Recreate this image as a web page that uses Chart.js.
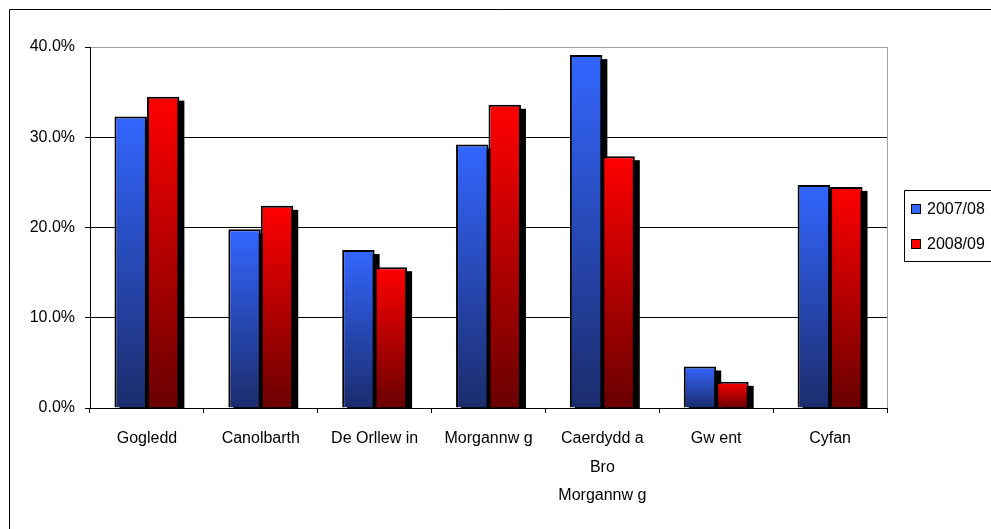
<!DOCTYPE html>
<html>
<head>
<meta charset="utf-8">
<script src="https://cdn.jsdelivr.net/npm/chart.js@4.4.1/dist/chart.umd.min.js"></script>
<style>
  html, body { margin: 0; padding: 0; background: #fff; }
  #wrap { width: 991px; height: 529px; position: relative; }
</style>
</head>
<body>
<div id="wrap"><canvas id="chart" width="991" height="529"></canvas></div>
<script>
Chart.defaults.font.family = "'Liberation Sans', Arial, sans-serif";
Chart.defaults.font.size = 16;
Chart.defaults.color = '#000';

const regions = [
  'Gogledd',
  'Canolbarth',
  'De Orllew in',
  'Morgannw g',
  ['Caerdydd a', 'Bro', 'Morgannw g'],
  'Gw ent',
  'Cyfan'
];
const series2007 = [32.3, 19.8, 17.5, 29.2, 39.1, 4.6, 24.7];
const series2008 = [34.5, 22.4, 15.6, 33.6, 27.9, 2.9, 24.5];
const seriesLabels = ['2007/08', '2008/09'];
const yTicks = [0, 10, 20, 30, 40];

const GRAD = {
  blue: ['#3366ff', '#1b2c6c'],
  red:  ['#ff0000', '#690000']
};

function barGradient(pair) {
  return ctx => {
    const chart = ctx.chart;
    if (!chart.chartArea || ctx.parsed === undefined) return pair[0];
    const y = chart.scales.y;
    const top = y.getPixelForValue(ctx.parsed.y);
    const base = y.getPixelForValue(0);
    if (!isFinite(top) || base - top < 1) return pair[0];
    const g = chart.ctx.createLinearGradient(0, top, 0, base);
    g.addColorStop(0, pair[0]);
    g.addColorStop(1, pair[1]);
    return g;
  };
}

const frame = {
  id: 'frame',
  beforeDatasetsDraw(chart) {
    const { ctx } = chart;
    const base = chart.scales.y.getPixelForValue(0);
    ctx.save();
    ctx.fillStyle = '#000';
    chart.data.datasets.forEach((ds, i) => {
      chart.getDatasetMeta(i).data.forEach(bar => {
        const w = bar.width;
        const h = base - bar.y - 4;
        if (h > 0) ctx.fillRect(bar.x - w / 2 + 5, bar.y + 4, w, h);
      });
    });
    ctx.restore();
  },
  afterDraw(chart) {
    const { ctx, chartArea: a } = chart;
    ctx.save();
    // plot area right edge
    ctx.strokeStyle = '#a0a0a0';
    ctx.lineWidth = 1;
    ctx.beginPath();
    ctx.moveTo(a.right + 0.5, a.top);
    ctx.lineTo(a.right + 0.5, a.bottom);
    ctx.stroke();
    // outer border
    ctx.strokeStyle = '#000';
    ctx.beginPath();
    ctx.moveTo(9.5, 529);
    ctx.lineTo(9.5, 9.5);
    ctx.lineTo(991, 9.5);
    ctx.stroke();
    // legend
    ctx.beginPath();
    ctx.rect(904.5, 190.5, 100, 71);
    ctx.stroke();
    ctx.font = "16px 'Liberation Sans', Arial, sans-serif";
    ctx.textBaseline = 'middle';
    ctx.textAlign = 'left';
    const fills = [GRAD.blue[0], GRAD.red[0]];
    chart.data.datasets.forEach((ds, i) => {
      const cy = 209 + i * 35;
      ctx.fillStyle = fills[i];
      ctx.fillRect(911, cy - 5, 10, 10);
      ctx.strokeStyle = '#000';
      ctx.strokeRect(911.5, cy - 4.5, 9, 9);
      ctx.fillStyle = '#000';
      ctx.fillText(ds.label, 927, cy + 1);
    });
    ctx.restore();
  }
};

new Chart(document.getElementById('chart'), {
  type: 'bar',
  data: {
    labels: regions,
    datasets: [
      { label: seriesLabels[0], data: series2007, backgroundColor: barGradient(GRAD.blue),
        borderColor: '#000', borderWidth: 2, categoryPercentage: 0.57, barPercentage: 1 },
      { label: seriesLabels[1], data: series2008, backgroundColor: barGradient(GRAD.red),
        borderColor: '#000', borderWidth: 2, categoryPercentage: 0.57, barPercentage: 1 }
    ]
  },
  options: {
    responsive: false,
    animation: false,
    layout: { padding: { left: 0, top: 47, right: 104, bottom: 0 } },
    plugins: { legend: { display: false }, tooltip: { enabled: false } },
    scales: {
      x: {
        afterFit: s => { s.height = 121; },
        grid: { offset: true, drawOnChartArea: false, tickLength: 5, tickColor: '#000' },
        border: { color: '#000', width: 1 },
        ticks: { autoSkip: false, maxRotation: 0, padding: 11, color: '#000',
                 font: { size: 16, lineHeight: 1.8 } }
      },
      y: {
        min: yTicks[0],
        max: yTicks[yTicks.length - 1],
        afterFit: s => { s.width = 90; },
        afterBuildTicks: s => { s.ticks = yTicks.map(v => ({ value: v })); },
        grid: {
          color: c => (c.tick && c.tick.value === 40) ? '#a0a0a0' : '#000',
          tickLength: 5, tickColor: '#000'
        },
        border: { color: '#000', width: 1 },
        ticks: { padding: 10, color: '#000', callback: v => v.toFixed(1) + '%' }
      }
    }
  },
  plugins: [frame]
});
</script>
</body>
</html>
